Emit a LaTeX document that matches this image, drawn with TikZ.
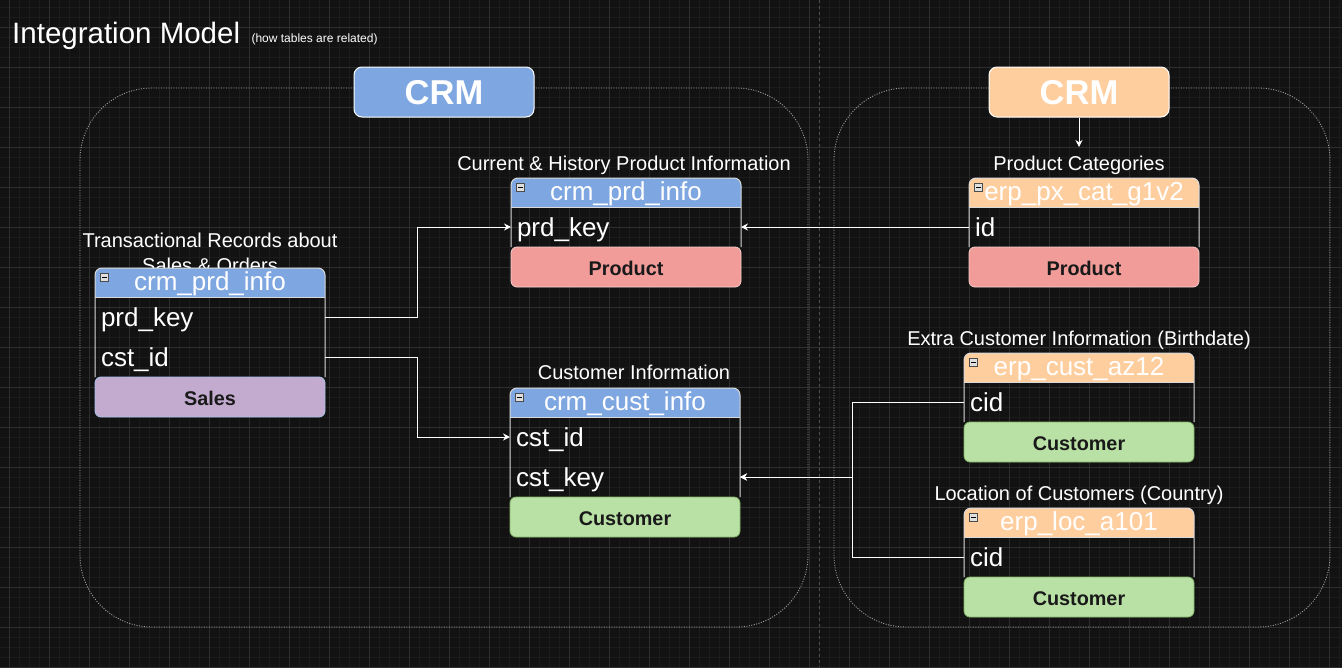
\documentclass[tikz,border=0pt]{standalone}
\usepackage{fontspec}
\setmainfont{Liberation Sans}
\usetikzlibrary{arrows.meta, backgrounds}
\definecolor{canvas}{RGB}{18,18,18}
\definecolor{gridminor}{RGB}{27,27,27}
\definecolor{gridmajor}{RGB}{46,46,46}
\definecolor{pagebreak}{RGB}{80,80,80}
\definecolor{crmblue}{RGB}{126,166,224}
\definecolor{erporange}{RGB}{255,206,159}
\definecolor{prodred}{RGB}{241,156,153}
\definecolor{prodline}{RGB}{248,206,204}
\definecolor{custgreen}{RGB}{185,224,165}
\definecolor{custline}{RGB}{130,179,102}
\definecolor{salespurple}{RGB}{195,171,208}
\definecolor{salesline}{RGB}{169,196,235}

\begin{document}
\begin{tikzpicture}[x=1pt, y=-1pt,
  >={Stealth[length=7pt, width=7pt]},
  link/.style={draw=white, line width=1pt},
  head/.style={fill=crmblue, rounded corners=7pt, minimum width=230pt, minimum height=29pt, inner sep=0pt, outer sep=0pt, text=white, font=\fontsize{26}{30}\selectfont, text height=19pt, text depth=4pt},
  row/.style={text width=218pt, inner xsep=6pt, inner ysep=0pt, outer sep=0pt, minimum height=40pt, align=left, text=white, font=\fontsize{26}{30}\selectfont, text height=18pt, text depth=0pt},
  foot/.style={rounded corners=6pt, minimum width=230pt, minimum height=40pt, inner sep=0pt, outer sep=0pt, line width=0.8pt, text=black!90, font=\bfseries\fontsize{19.8}{24}\selectfont, text height=16pt, text depth=0pt},
  caption/.style={anchor=base, inner sep=0pt, text=white, font=\fontsize{20}{25}\selectfont},
  bodyline/.style={draw=white!85!black, line width=1pt},
  group/.style={draw=gray!75, line width=0.9pt, dash pattern=on 1pt off 1.5pt, rounded corners=72pt},
  crmbox/.style={draw=white, line width=1pt, rounded corners=8pt, minimum width=180pt, minimum height=50pt, inner sep=0pt, text=white, font=\bfseries\fontsize{34.5}{40}\selectfont, text height=25pt, text depth=0pt},
  minusbox/.style={anchor=north west, draw=gray!60!black, fill=gray!25, minimum size=8pt, inner sep=0pt, line width=0.6pt}]

  % Dark canvas with grid - drawn first
  \useasboundingbox (0,0) rectangle (1342,667);
  \begin{scope}[on background layer]
    \fill[canvas] (0,0) rectangle (1342,667);
    \foreach \gx in {9,19,...,1339} \draw[gridminor, line width=0.8pt] (\gx,0) -- (\gx,667);
    \foreach \gy in {7,17,...,667} \draw[gridminor, line width=0.8pt] (0,\gy) -- (1342,\gy);
    \foreach \gx in {9,49,...,1329} \draw[gridmajor, line width=0.9pt] (\gx,0) -- (\gx,667);
    \foreach \gy in {27,67,...,667} \draw[gridmajor, line width=0.9pt] (0,\gy) -- (1342,\gy);
  \end{scope}
  \draw[pagebreak, line width=0.8pt, dash pattern=on 3pt off 3pt] (819.5,0) -- (819.5,667);

  % Title
  \node[anchor=base west, inner sep=0pt, text=white, font=\fontsize{29.5}{34}\selectfont] (title) at (12,43) {Integration Model};
  \node[anchor=base west, inner sep=0pt, text=white, font=\fontsize{12}{14}\selectfont] (subtitle) at ([xshift=11pt, yshift=1pt]title.base east) {(how tables are related)};

  % Groups
  \draw[group] (80,88) rectangle (808,627);
  \draw[group] (834,88) rectangle (1330,627);
  \node[crmbox, fill=crmblue] (crmleft) at (444,92) {CRM};
  \node[crmbox, fill=erporange] (crmright) at (1079,92) {CRM};

  % Table captions
  \node[caption, align=center, anchor=center] (saleslabel) at (210,252.5) {Transactional Records about\\Sales \& Orders};
  \node[caption] (prdlabel) at (624,170) {Current \& History Product Information};
  \node[caption] (custlabel) at (634,379) {Customer Information};
  \node[caption] (catlabel) at (1079,170) {Product Categories};
  \node[caption] (azlabel) at (1079,345) {Extra Customer Information (Birthdate)};
  \node[caption] (loclabel) at (1079,500) {Location of Customers (Country)};

  % Sales table
  \node[head] (lprdhead) at (210,282.5) {crm\_prd\_info};
  \node[row] (lprdkey) at (210,317) {prd\_key};
  \node[row] (lcstid) at (210,357) {cst\_id};
  \draw[bodyline, rounded corners=7pt] (lcstid.south west) |- (lprdhead.north) -| (lcstid.south east);
  \draw[bodyline] (lprdhead.south west) -- (lprdhead.south east);
  \node[foot, fill=salespurple, draw=salesline] (lsales) at (210,397) {Sales};

  % Product table
  \node[head] (prdhead) at (626,192.5) {crm\_prd\_info};
  \node[row] (prdkey) at (626,227) {prd\_key};
  \draw[bodyline, rounded corners=7pt] (prdkey.south west) |- (prdhead.north) -| (prdkey.south east);
  \draw[bodyline] (prdhead.south west) -- (prdhead.south east);
  \node[foot, fill=prodred, draw=prodline] (prdprod) at (626,267) {Product};

  % Customer table
  \node[head] (custhead) at (625,402.5) {crm\_cust\_info};
  \node[row] (custid) at (625,437) {cst\_id};
  \node[row] (custkey) at (625,477) {cst\_key};
  \draw[bodyline, rounded corners=7pt] (custkey.south west) |- (custhead.north) -| (custkey.south east);
  \draw[bodyline] (custhead.south west) -- (custhead.south east);
  \node[foot, fill=custgreen, draw=custline] (custcust) at (625,517) {Customer};

  % Category table
  \node[head, fill=erporange] (cathead) at (1084,192.5) {erp\_px\_cat\_g1v2};
  \node[row] (catid) at (1084,227) {id};
  \draw[bodyline, rounded corners=7pt] (catid.south west) |- (cathead.north) -| (catid.south east);
  \draw[bodyline] (cathead.south west) -- (cathead.south east);
  \node[foot, fill=prodred, draw=prodline] (catprod) at (1084,267) {Product};

  % Birthdate table
  \node[head, fill=erporange] (azhead) at (1079,367.5) {erp\_cust\_az12};
  \node[row] (azcid) at (1079,402) {cid};
  \draw[bodyline, rounded corners=7pt] (azcid.south west) |- (azhead.north) -| (azcid.south east);
  \draw[bodyline] (azhead.south west) -- (azhead.south east);
  \node[foot, fill=custgreen, draw=custline] (azcust) at (1079,442) {Customer};

  % Country table
  \node[head, fill=erporange] (lochead) at (1079,522.5) {erp\_loc\_a101};
  \node[row] (loccid) at (1079,557) {cid};
  \draw[bodyline, rounded corners=7pt] (loccid.south west) |- (lochead.north) -| (loccid.south east);
  \draw[bodyline] (lochead.south west) -- (lochead.south east);
  \node[foot, fill=custgreen, draw=custline] (loccust) at (1079,597) {Customer};

  % Square off header bottoms, behind the headers
  \begin{scope}[on background layer]
    \foreach \h/\c in {lprdhead/crmblue,prdhead/crmblue,custhead/crmblue,cathead/erporange,azhead/erporange,lochead/erporange}
      \fill[color=\c] ([yshift=10pt]\h.south west) rectangle (\h.south east);
  \end{scope}

  % Collapse icons
  \foreach \h in {lprdhead,prdhead,custhead,cathead,azhead,lochead}
    \node[minusbox] (\h icon) at ([xshift=5pt, yshift=-5pt]\h.north west) {\rule{4.5pt}{1.1pt}};

  % Arrows
  \coordinate (cattip) at (1079,147);
  \draw[link, ->] (crmright.south) -- (cattip);
  \draw[link, ->] (catid.west) -- (prdkey.east);
  \draw[link, ->] (lprdkey.east) -- ++(92,0) |- (prdkey.west);
  \draw[link, ->] (lcstid.east) -- ++(92,0) |- (custid.west);
  \draw[link, ->] (azcid.west) -- ++(-112,0) |- (custkey.east);
  \draw[link, ->] (loccid.west) -- ++(-112,0) |- (custkey.east);
\end{tikzpicture}
\end{document}
